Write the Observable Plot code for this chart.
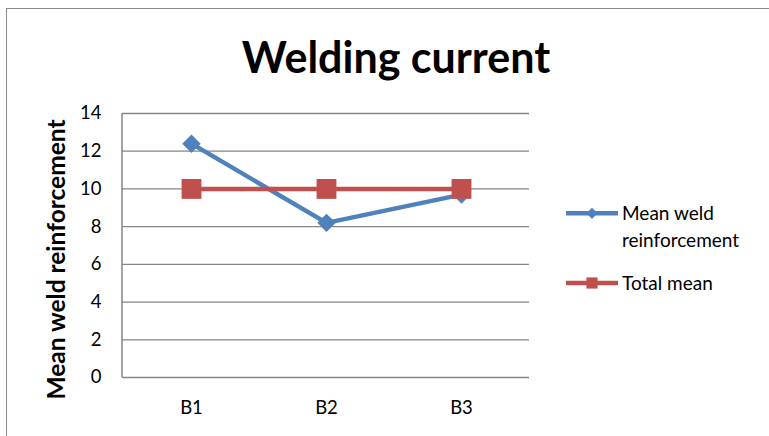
<!DOCTYPE html>
<html>
<head>
<meta charset="utf-8">
<script src="https://cdn.jsdelivr.net/npm/d3@7"></script>
<script src="https://cdn.jsdelivr.net/npm/@observablehq/plot@0.6"></script>
<style>
  html, body { margin: 0; padding: 0; background: #fff; overflow: hidden; }
  body { width: 769px; height: 436px; position: relative; font-family: Lato, sans-serif; }
  #frame { position: absolute; left: 6px; top: 8px; width: 800px; height: 500px; border: 1px solid #8a8a8a; box-sizing: border-box; }
  #title { position: absolute; left: 0; top: 35px; width: 792px; text-align: center; font-weight: 700; font-size: 43px; color: #000; line-height: 1; white-space: nowrap; }
  #chart { position: absolute; left: 0; top: 90px; }
  #legend { position: absolute; left: 560px; top: 190px; }
</style>
</head>
<body>
<div id="frame"></div>
<div id="title">Welding current</div>
<div id="chart"></div>
<div id="legend"></div>
<script>
// Weld reinforcement by welding-current level
const categories = ["B1", "B2", "B3"];
const meanWeldReinforcement = [12.4, 8.2, 9.7];
const totalMean = [10, 10, 10];
const yTicks = [0, 2, 4, 6, 8, 10, 12, 14];
const yLabel = "Mean weld reinforcement";
const seriesNames = ["Mean weld reinforcement", "Total mean"];
const seriesColors = ["#4F81BD", "#C0504D"];

const weld = categories.map((c, i) => ({category: c, value: meanWeldReinforcement[i]}));
const total = categories.map((c, i) => ({category: c, value: totalMean[i]}));

// vertical axis line along the left edge of the plotting area
const leftAxisLine = (index, scales, values, dims) => {
  const line = d3.create("svg:line")
    .attr("x1", dims.marginLeft).attr("x2", dims.marginLeft)
    .attr("y1", scales.y(yTicks[yTicks.length - 1])).attr("y2", scales.y(yTicks[0]))
    .attr("stroke", "#868686").attr("stroke-width", 1.5);
  return line.node();
};

const chart = Plot.plot({
  width: 540,
  height: 330,
  marginLeft: 122,
  marginRight: 11,
  marginTop: 23,
  marginBottom: 43,
  style: {fontFamily: "Lato", fontSize: "18.5px", color: "#000", background: "transparent", overflow: "visible"},
  x: {type: "point", domain: categories, padding: 0.5},
  y: {domain: [0, 14]},
  marks: [
    Plot.gridY(yTicks, {stroke: "#868686", strokeOpacity: 1, strokeWidth: 1.3}),
    leftAxisLine,
    Plot.axisY(yTicks, {tickSize: 0, tickPadding: 21, label: null, fontSize: 18.5}),
    Plot.axisX({tickSize: 0, tickPadding: 23, label: null, fontSize: 18.5}),
    // rotated axis title, left of the tick labels
    Plot.text([yLabel], {frameAnchor: "left", textAnchor: "middle", rotate: -90, dx: -65, dy: 14, fontSize: 24.5, fontWeight: 700, fill: "#000"}),
    Plot.line(weld, {x: "category", y: "value", stroke: seriesColors[0], strokeWidth: 4.5}),
    Plot.dot(weld, {x: "category", y: "value", symbol: "diamond2", r: 8.3, fill: seriesColors[0], stroke: "none"}),
    Plot.line(total, {x: "category", y: "value", stroke: seriesColors[1], strokeWidth: 4.5}),
    Plot.dot(total, {x: "category", y: "value", symbol: "square", r: 11.2, fill: seriesColors[1], stroke: "none"})
  ]
});
document.getElementById("chart").appendChild(chart);

// legend: a line swatch with its marker, then the series name
const legendLines = [["Mean weld", "reinforcement"], ["Total mean"]];
const legendSymbols = [d3.symbolDiamond2, d3.symbolSquare];
const legendSymbolSizes = [80, 125];
const legend = d3.create("svg").attr("width", 209).attr("height", 110)
  .style("font-family", "Lato").style("font-size", "19px");
const rowY = [23.3, 93];
seriesNames.forEach((name, i) => {
  const g = legend.append("g").attr("transform", `translate(0,${rowY[i]})`);
  g.append("line").attr("x1", 6).attr("x2", 58).attr("stroke", seriesColors[i]).attr("stroke-width", 4.5);
  g.append("path").attr("transform", "translate(32,0)")
    .attr("d", d3.symbol(legendSymbols[i], legendSymbolSizes[i])()).attr("fill", seriesColors[i]);
  const t = g.append("text").attr("x", 62).attr("y", 6.5).attr("fill", "#000");
  legendLines[i].forEach((s, j) => t.append("tspan").attr("x", 62).attr("dy", j === 0 ? 0 : 27.5).text(s));
});
document.getElementById("legend").appendChild(legend.node());
</script>
</body>
</html>
